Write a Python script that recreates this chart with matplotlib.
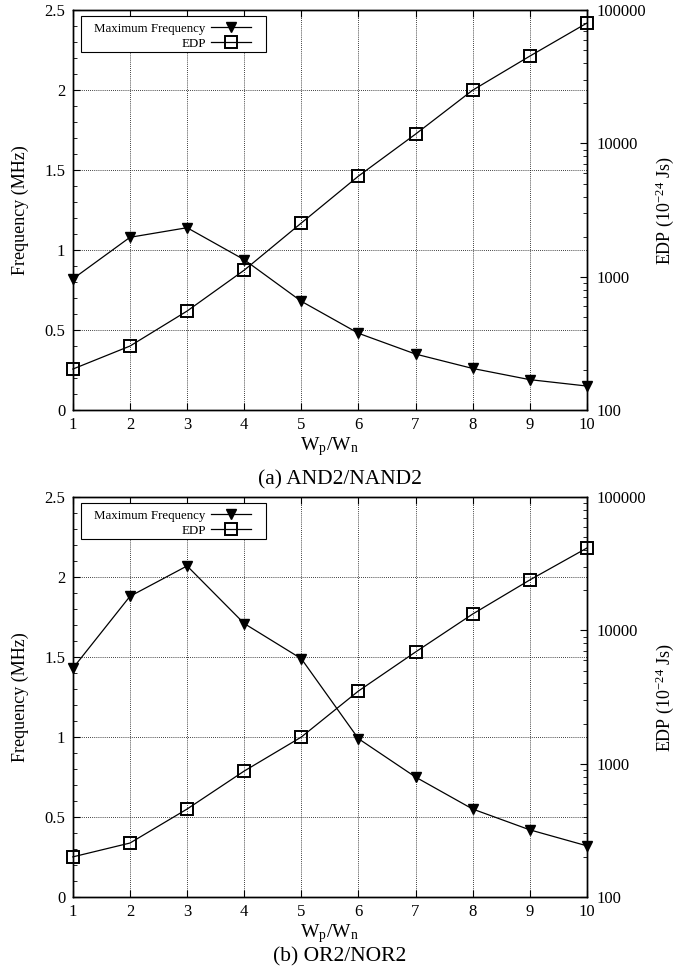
import matplotlib.pyplot as plt
from matplotlib.patches import Rectangle
from matplotlib.ticker import MultipleLocator, FixedLocator, FuncFormatter, LogLocator, NullFormatter

plt.rcParams['font.family'] = ['Liberation Serif', 'DejaVu Serif']
plt.rcParams['mathtext.fontset'] = 'stix'

# W_p/W_n ratios
ratio = [1, 2, 3, 4, 5, 6, 7, 8, 9, 10]

# (a) AND2/NAND2
freq_and = [0.82, 1.08, 1.14, 0.94, 0.68, 0.48, 0.35, 0.26, 0.19, 0.15]
edp_and = [203, 302, 553, 1120, 2530, 5690, 11750, 25100, 45200, 80000]

# (b) OR2/NOR2
freq_or = [1.43, 1.88, 2.07, 1.71, 1.49, 0.99, 0.75, 0.55, 0.42, 0.32]
edp_or = [200, 254, 457, 881, 1585, 3510, 6890, 13270, 23900, 41500]

panels = [
    (freq_and, edp_and, '(a) AND2/NAND2', 0.5816, -0.175),
    (freq_or, edp_or, '(b) OR2/NOR2', 0.0847, -0.15),
]

fig = plt.figure(figsize=(6.94, 9.8), dpi=100)

for freq, edp, caption, bottom, cap_y in panels:
    ax = fig.add_axes([0.105, bottom, 0.7406, 0.408])
    ax2 = ax.twinx()

    l1, = ax.plot(ratio, freq, color='black', lw=0.9, marker='v', ms=7,
                  markerfacecolor='black', label='Maximum Frequency', clip_on=False, zorder=5)
    l2, = ax2.plot(ratio, edp, color='black', lw=0.9, marker='s', ms=8,
                   markerfacecolor='none', markeredgewidth=1.4, label='EDP', clip_on=False, zorder=5)

    ax.set_xlim(1, 10)
    ax.set_ylim(0, 2.5)
    ax.xaxis.set_major_locator(MultipleLocator(1))
    ax.yaxis.set_major_locator(MultipleLocator(0.5))
    ax.yaxis.set_minor_locator(MultipleLocator(0.1))
    ax.yaxis.set_major_formatter(FuncFormatter(lambda v, p: '%g' % v))
    ax.grid(True, which='major', linestyle=(0, (1, 1.5)), color='black', lw=0.6)
    ax.tick_params(direction='in', which='both', labelsize=12, top=True, right=False)
    ax.tick_params(which='major', length=5)
    ax.tick_params(which='minor', length=3)
    ax.tick_params(axis='x', pad=5)
    ax.tick_params(axis='y', pad=5.5)

    ax2.set_yscale('log')
    ax2.set_ylim(100, 100000)
    ax2.yaxis.set_major_locator(FixedLocator([100, 1000, 10000, 100000]))
    ax2.yaxis.set_minor_locator(LogLocator(base=10, subs=range(2, 10)))
    ax2.yaxis.set_minor_formatter(NullFormatter())
    ax2.yaxis.set_major_formatter(FuncFormatter(lambda v, p: '%d' % v))
    ax2.tick_params(direction='in', which='both', labelsize=12, pad=7)
    ax2.tick_params(which='major', length=5)
    ax2.tick_params(which='minor', length=3)

    for a in (ax, ax2):
        for s in a.spines.values():
            s.set_linewidth(1.0)

    ax.set_xlabel('W$_\\mathregular{p}$/W$_\\mathregular{n}$', fontsize=14)
    ax.xaxis.set_label_coords(0.5, -0.062)
    ax.set_ylabel('Frequency (MHz)', fontsize=13)
    ax.yaxis.set_label_coords(-0.085, 0.5)
    ax2.set_ylabel('EDP (10$^{\\mathregular{-24}}$ Js)', fontsize=13)
    ax2.yaxis.set_label_coords(1.13, 0.5)

    # gnuplot-style key: labels right-aligned, samples on the right
    leg = ax.legend(handles=[l1, l2], loc='upper right', markerfirst=False,
                    fontsize=9.3, handlelength=3.1, frameon=False,
                    borderpad=0, labelspacing=0.22, handletextpad=0.45,
                    bbox_to_anchor=(0.36, 0.985))
    leg.set_zorder(10)
    ax.add_patch(Rectangle((0.0156, 0.895), 0.36, 0.091, transform=ax.transAxes,
                           facecolor='white', edgecolor='black', lw=0.8, zorder=9,
                           clip_on=False))

    fig.text(0.49, ax.get_position().y0 + cap_y * 0.408, caption, ha='center', va='center',
             fontsize=15.5)

fig.savefig('out.png', dpi=100)
